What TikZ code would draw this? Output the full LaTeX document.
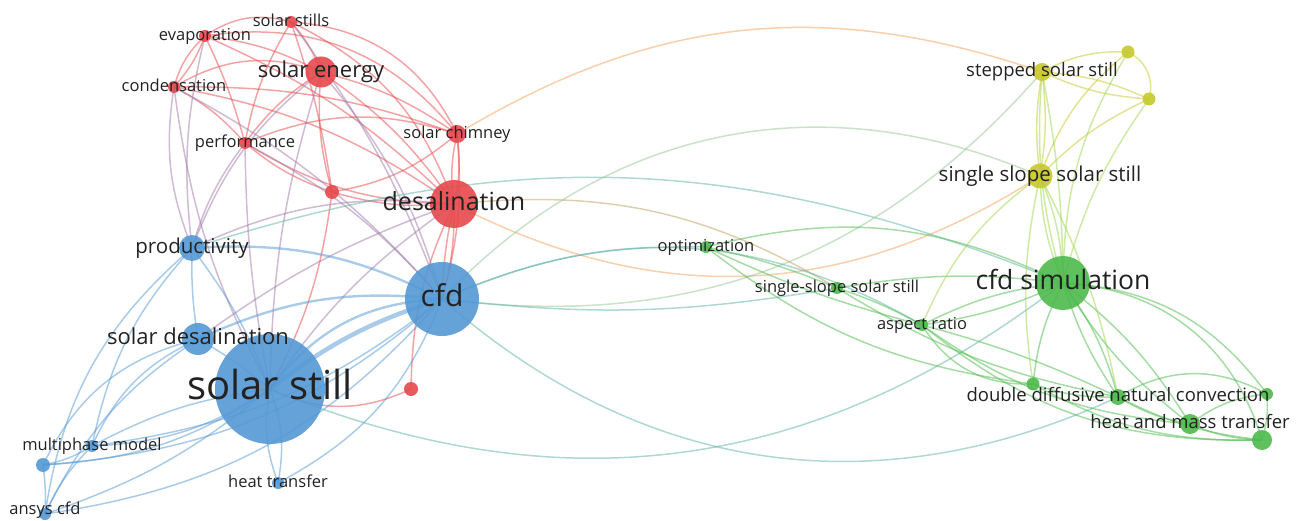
\documentclass[tikz,border=0pt]{standalone}
\usepackage{fontspec}
\setmainfont{Open Sans}
\pgfdeclarelayer{edges}
\pgfsetlayers{edges,main}
\definecolor{cR}{RGB}{230,72,76}
\definecolor{cB}{RGB}{84,152,212}
\definecolor{cG}{RGB}{76,186,76}
\definecolor{cY}{RGB}{200,200,46}
\definecolor{xRB}{RGB}{160,120,170}
\definecolor{xRG}{RGB}{190,160,95}
\definecolor{xRY}{RGB}{244,160,90}
\definecolor{xBG}{RGB}{95,178,165}
\definecolor{xBY}{RGB}{150,195,150}
\definecolor{xGY}{RGB}{160,212,80}
\definecolor{labc}{RGB}{34,34,34}
\begin{document}
\begin{tikzpicture}[x=1pt,y=-1pt,
  dot/.style={circle, inner sep=0pt, minimum size=#1pt, fill opacity=.9, draw=none},
  lab/.style={font=\fontsize{#1}{#1}\selectfont, text=labc, inner sep=0pt,
              text height={0.74*#1pt}, text depth={0.22*#1pt}},
  edg/.style={line width=1.5pt, draw opacity=.5},
  eR/.style={edg, draw=cR}, eB/.style={edg, draw=cB}, eG/.style={edg, draw=cG},
  eY/.style={edg, draw=cY}, eRB/.style={edg, draw=xRB}, eRG/.style={edg, draw=xRG},
  eRY/.style={edg, draw=xRY}, eBG/.style={edg, draw=xBG}, eBY/.style={edg, draw=xBY},
  eGY/.style={edg, draw=xGY}]
\useasboundingbox (0,0) rectangle (1298,521);
% ---------- nodes ----------
% red
\node[dot=12, fill=cR] (sstills) at (291,22) {};
\node[dot=12, fill=cR] (evap) at (205,36) {};
\node[dot=12, fill=cR] (cond) at (174,87) {};
\node[dot=31, fill=cR] (senergy) at (321,72) {};
\node[dot=18, fill=cR] (schim) at (457,134) {};
\node[dot=12, fill=cR] (perf) at (245,143) {};
\node[dot=14, fill=cR] (r1) at (332,192) {};
\node[dot=48, fill=cR] (desal) at (454,204) {};
\node[dot=14, fill=cR] (r2) at (411,389) {};
% blue
\node[dot=26, fill=cB] (prod) at (192,248) {};
\node[dot=74, fill=cB] (cfd) at (442,299) {};
\node[dot=32, fill=cB] (sdesal) at (198,339) {};
\node[dot=110, fill=cB] (sstill) at (270,389) {};
\node[dot=12, fill=cB] (mpm) at (92,446) {};
\node[dot=14, fill=cB] (b1) at (43,465) {};
\node[dot=12, fill=cB] (ansys) at (45,514) {};
\node[dot=12, fill=cB] (htrans) at (278,483) {};
% green
\node[dot=12, fill=cG] (opt) at (706,247) {};
\node[dot=12, fill=cG] (ssl) at (837,288) {};
\node[dot=12, fill=cG] (asp) at (922,325) {};
\node[dot=54, fill=cG] (cfdsim) at (1063,283) {};
\node[dot=13, fill=cG] (g1) at (1033,384) {};
\node[dot=16, fill=cG] (ddnc) at (1118,397) {};
\node[dot=12, fill=cG] (g2) at (1267,394) {};
\node[dot=20, fill=cG] (hmt) at (1190,424) {};
\node[dot=20, fill=cG] (g3) at (1262,440) {};
% yellow
\node[dot=18, fill=cY] (step) at (1042,72) {};
\node[dot=13, fill=cY] (y1) at (1128,52) {};
\node[dot=13, fill=cY] (y2) at (1149,99) {};
\node[dot=25, fill=cY] (slope) at (1040,176) {};
% ---------- labels ----------
\node[lab=16.5] (Lsstills) at (sstills) {solar stills};
\node[lab=16.5] (Levap) at (evap) {evaporation};
\node[lab=16.5] (Lcond) at (cond) {condensation};
\node[lab=22] (Lsenergy) at (senergy) {solar energy};
\node[lab=16.5] (Lschim) at (schim) {solar chimney};
\node[lab=16.5] (Lperf) at (perf) {performance};
\node[lab=25] (Ldesal) at (desal) {desalination};
\node[lab=20.5] (Lprod) at (prod) {productivity};
\node[lab=30] (Lcfd) at (cfd) {cfd};
\node[lab=22] (Lsdesal) at (sdesal) {solar desalination};
\node[lab=40] (Lsstill) at (sstill) {solar still};
\node[lab=16.5] (Lmpm) at (mpm) {multiphase model};
\node[lab=16.5] (Lansys) at (45,510) {ansys cfd};
\node[lab=16.5] (Lhtrans) at (htrans) {heat transfer};
\node[lab=16.5] (Lopt) at (opt) {optimization};
\node[lab=16.5] (Lssl) at (ssl) {single-slope solar still};
\node[lab=16.5] (Lasp) at (asp) {aspect ratio};
\node[lab=26.5] (Lcfdsim) at (cfdsim) {cfd simulation};
\node[lab=18.5] (Lddnc) at (ddnc) {double diffusive natural convection};
\node[lab=18.5] (Lhmt) at (hmt) {heat and mass transfer};
\node[lab=18.5] (Lstep) at (step) {stepped solar still};
\node[lab=20.5] (Lslope) at (slope) {single slope solar still};
% ---------- edges ----------
\begin{pgfonlayer}{edges}
% red internal
\draw[eR] (evap.center) to[bend left=25] (sstills.center);
\draw[eR] (sstills.center) to[bend left=30] (schim.center);
\draw[eR] (evap.center) to[bend left=30] (schim.center);
\draw[eR] (sstills.center) to[bend left=22] (desal.center);
\draw[eR] (evap.center) to[bend right=15] (cond.center);
\draw[eR] (evap.center) to[bend left=10] (cond.center);
\draw[eR] (evap.center) to[bend left=10] (senergy.center);
\draw[eR] (evap.center) to[bend left=5] (perf.center);
\draw[eR] (evap.center) to[bend left=10] (desal.center);
\draw[eR] (cond.center) to[bend left=25] (senergy.center);
\draw[eR] (cond.center) to[bend left=10] (schim.center);
\draw[eR] (cond.center) to[bend left=10] (perf.center);
\draw[eR] (cond.center) to[bend left=12] (desal.center);
\draw[eR] (sstills.center) to[bend left=10] (senergy.center);
\draw[eR] (sstills.center) to[bend right=10] (perf.center);
\draw[eR] (sstills.center) to[bend left=5] (r1.center);
\draw[eR] (senergy.center) to[bend right=10] (perf.center);
\draw[eR] (senergy.center) to[bend left=10] (desal.center);
\draw[eR] (senergy.center) to[bend left=10] (schim.center);
\draw[eR] (senergy.center) to[bend right=10] (r1.center);
\draw[eR] (perf.center) to[bend right=15] (desal.center);
\draw[eR] (perf.center) to[bend left=20] (schim.center);
\draw[eR] (perf.center) to[bend right=10] (r1.center);
\draw[eR] (r1.center) to[bend right=10] (desal.center);
\draw[eR] (r1.center) to[bend right=15] (schim.center);
\draw[eR] (schim.center) to[bend right=10] (desal.center);
\draw[eR] (schim.center) to[bend left=10] (desal.center);
\draw[eR] (desal.center) to[bend right=12] (r2.center);
\draw[eR] (r2.center) to[bend left=25] (sstill.center);
\draw[eR] (desal.center) to[bend right=5] (cfd.center);
\draw[eR] (desal.center) to[bend left=8] (cfd.center);
\draw[eR] (schim.center) to[bend left=10] (cfd.center);
\draw[eR] (r1.center) to[bend left=10] (sstill.center);
% red-blue
\draw[eRB] (cond.center) to[bend right=15] (prod.center);
\draw[eRB] (cond.center) to[bend left=10] (cfd.center);
\draw[eRB] (cond.center) to[bend right=10] (sstill.center);
\draw[eRB] (evap.center) to[bend right=10] (prod.center);
\draw[eRB] (senergy.center) to[bend left=12] (cfd.center);
\draw[eRB] (senergy.center) to[bend right=15] (prod.center);
\draw[eRB] (senergy.center) to[bend right=8] (sstill.center);
\draw[eRB] (sstills.center) to[bend left=8] (cfd.center);
\draw[eRB] (perf.center) to[bend right=10] (prod.center);
\draw[eRB] (perf.center) to[bend left=10] (cfd.center);
\draw[eRB] (perf.center) to[bend right=5] (sstill.center);
\draw[eRB] (desal.center) to[bend right=10] (sstill.center);
\draw[eRB] (desal.center) to[bend right=15] (prod.center);
\draw[eRB] (desal.center) to[bend right=8] (sdesal.center);
% blue internal
\draw[eB] (prod.center) to[bend right=5] (sdesal.center);
\draw[eB] (prod.center) to[bend left=8] (sstill.center);
\draw[eB, line width=2.4pt] (prod.center) to[bend left=15] (cfd.center);
\draw[eB] (prod.center) to[bend right=15] (mpm.center);
\draw[eB] (prod.center) to[bend right=20] (ansys.center);
\draw[eB] (sdesal.center) to[bend left=5] (sstill.center);
\draw[eB, line width=2.4pt] (sdesal.center) to[bend left=15] (cfd.center);
\draw[eB] (sdesal.center) to[bend right=20] (mpm.center);
\draw[eB] (sdesal.center) to[bend right=15] (ansys.center);
\draw[eB] (sdesal.center) to[bend right=25] (b1.center);
\draw[eB, line width=4.5pt] (sstill.center) to[bend left=10] (cfd.center);
\draw[eB, line width=2.4pt] (sstill.center) to[bend left=25] (cfd.center);
\draw[eB] (sstill.center) to[bend right=10] (mpm.center);
\draw[eB] (sstill.center) to[bend left=15] (mpm.center);
\draw[eB] (sstill.center) to[bend left=15] (b1.center);
\draw[eB] (sstill.center) to[bend left=10] (ansys.center);
\draw[eB] (sstill.center) to[bend right=15] (htrans.center);
\draw[eB] (sstill.center) to[bend left=15] (htrans.center);
\draw[eB] (cfd.center) to[bend left=20] (htrans.center);
\draw[eB] (cfd.center) to[bend left=15] (mpm.center);
\draw[eB] (cfd.center) to[bend left=20] (ansys.center);
\draw[eB] (cfd.center) to[bend left=18] (b1.center);
\draw[eB] (mpm.center) to[bend right=10] (ansys.center);
\draw[eB] (b1.center) to[bend left=5] (ansys.center);
\draw[eB] (b1.center) to[bend right=10] (mpm.center);
% long cross-cluster
\draw[eRY] (schim.center) to[bend left=25] (step.center);
\draw[eRY] (desal.center) to[bend right=30] (slope.center);
\draw[eRG] (desal.center) to[bend left=18] (ssl.center);
\draw[eBG] (prod.center) to[bend left=20] (cfdsim.center);
\draw[eBY] (cfd.center) to[bend left=35] (slope.center);
\draw[eBY] (cfd.center) to[bend right=28] (step.center);
\draw[eBG] (cfd.center) to[bend left=12] (opt.center);
\draw[eBG] (cfd.center) to[bend left=27] (asp.center);
\draw[eBG] (cfd.center) to[bend right=8] (ssl.center);
\draw[eBG] (cfd.center) to[bend right=33] (ddnc.center);
\draw[eBG] (sstill.center) to[bend right=30] (cfdsim.center);
% green internal
\draw[eG] (opt.center) to[bend left=20] (cfdsim.center);
\draw[eG] (opt.center) to[bend right=5] (asp.center);
\draw[eG] (opt.center) to[bend left=5] (ssl.center);
\draw[eG] (opt.center) to[bend right=15] (g1.center);
\draw[eG] (ssl.center) to[bend left=5] (asp.center);
\draw[eG] (ssl.center) to[bend left=8] (cfdsim.center);
\draw[eG] (ssl.center) to[bend right=10] (ddnc.center);
\draw[eG] (asp.center) to[bend left=10] (cfdsim.center);
\draw[eG] (asp.center) to[bend right=8] (cfdsim.center);
\draw[eG] (asp.center) to[bend right=30] (g1.center);
\draw[eG] (asp.center) to[bend left=5] (ddnc.center);
\draw[eG] (asp.center) to[bend right=15] (hmt.center);
\draw[eG] (asp.center) to[bend right=20] (g3.center);
\draw[eG] (cfdsim.center) to[bend right=10] (g1.center);
\draw[eG] (cfdsim.center) to[bend right=8] (ddnc.center);
\draw[eG] (cfdsim.center) to[bend left=10] (ddnc.center);
\draw[eG] (cfdsim.center) to[bend left=10] (hmt.center);
\draw[eG] (cfdsim.center) to[bend right=10] (hmt.center);
\draw[eG] (cfdsim.center) to[bend left=35] (g3.center);
\draw[eG] (cfdsim.center) to[bend left=25] (g2.center);
\draw[eG] (g1.center) to[bend right=10] (ddnc.center);
\draw[eG] (g1.center) to[bend right=15] (g3.center);
\draw[eG] (ddnc.center) to[bend left=30] (g2.center);
\draw[eG] (ddnc.center) to[bend right=10] (hmt.center);
\draw[eG] (ddnc.center) to[bend right=10] (g3.center);
\draw[eG] (hmt.center) to[bend right=10] (g3.center);
\draw[eG] (hmt.center) to[bend left=15] (g2.center);
\draw[eG] (g2.center) to[bend left=10] (g3.center);
% yellow
\draw[eY] (step.center) to[bend left=15] (y1.center);
\draw[eY] (step.center) to[bend left=10] (y2.center);
\draw[eY] (step.center) to[bend right=10] (y2.center);
\draw[eY] (y1.center) to[bend left=40] (y2.center);
\draw[eY] (step.center) to[bend left=8] (slope.center);
\draw[eY] (step.center) to[bend right=8] (slope.center);
\draw[eY] (slope.center) to[bend left=15] (y1.center);
\draw[eY] (slope.center) to[bend left=10] (y2.center);
% yellow-green
\draw[eGY] (step.center) to[bend left=5] (cfdsim.center);
\draw[eGY] (step.center) to[bend right=10] (cfdsim.center);
\draw[eGY] (y1.center) to[bend right=15] (cfdsim.center);
\draw[eGY] (y2.center) to[bend right=10] (cfdsim.center);
\draw[eGY] (slope.center) to[bend left=10] (cfdsim.center);
\draw[eGY] (slope.center) to[bend right=10] (cfdsim.center);
\draw[eGY] (slope.center) to[bend right=15] (asp.center);
\draw[eGY] (slope.center) to[bend right=10] (g1.center);
\draw[eGY] (slope.center) to[bend left=8] (ddnc.center);
\end{pgfonlayer}
\end{tikzpicture}
\end{document}
